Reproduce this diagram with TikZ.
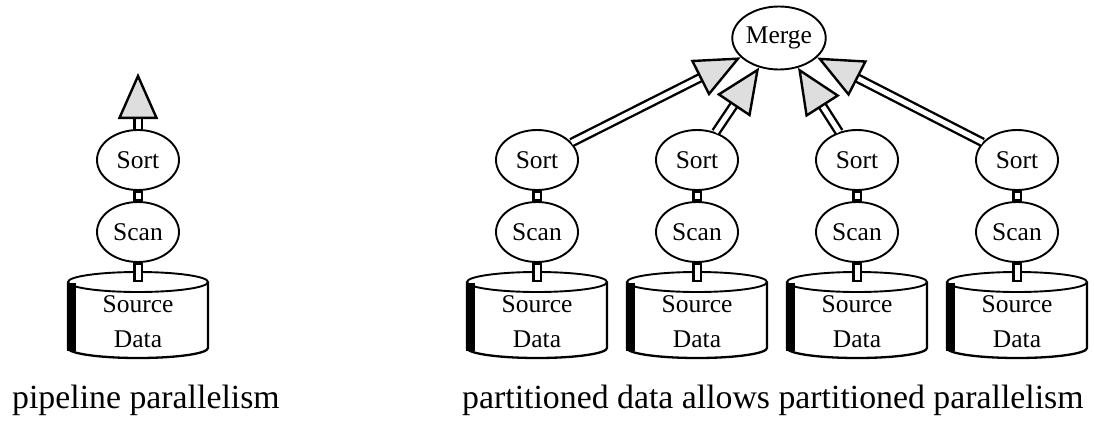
\documentclass[tikz,border=0pt]{standalone}
\usepackage{fontspec}
\setmainfont{Liberation Serif}
\usetikzlibrary{arrows.meta,shapes.geometric}

\begin{document}
\begin{tikzpicture}[x=1pt,y=-1pt,
  every node/.style={font=\fontsize{25.5}{35}\selectfont},
  op/.style={ellipse,draw,line width=1.9pt,minimum width=82pt,minimum height=60pt,inner sep=0pt},
  stub/.style={draw,double,line width=2.4pt,double distance=5pt,line cap=rect,shorten <=4.9pt,shorten >=4.9pt},
  flow/.style={draw,double,line width=2.4pt,double distance=5pt,-{Triangle[length=46pt,width=40pt,fill=black!13]}},
  caption/.style={font=\fontsize{33.8}{38}\selectfont,anchor=base west,inner sep=0pt}]
\useasboundingbox (0,0) rectangle (1094,423);
\node[op,minimum height=63pt] (merge) at (779,38) {Merge};
\foreach \n/\c in {l/138,1/537,2/697,3/857,4/1017} {
  \node[op] (sort\n) at (\c,160) {Sort};
  \node[op] (scan\n) at (\c,232) {Scan};
  \node[align=center] (data\n) at (\c,322) {Source\\Data};
  \coordinate (top\n) at (\c,282);
  % the disk
  \draw[line width=1.9pt] (top\n) ellipse [x radius=70,y radius=10];
  \draw[line width=2.3pt] (\c+70,282) -- (\c+70,348) arc[start angle=0,end angle=180,x radius=70,y radius=10] -- (\c-70,282);
  \fill (\c-71,283) rectangle (\c-62,351);
  \draw[stub] (sort\n) -- (scan\n);
  \draw[stub] (scan\n) -- (top\n);
}
\coordinate (out) at (138,73);
\draw[flow] (sortl) -- (out);
\foreach \i in {1,...,4} \draw[flow] (sort\i) -- (merge);
\node[caption] (cap1) at (12,408) {pipeline parallelism};
\node[caption] (cap2) at (462,408) {partitioned data allows partitioned parallelism};
\end{tikzpicture}
\end{document}
